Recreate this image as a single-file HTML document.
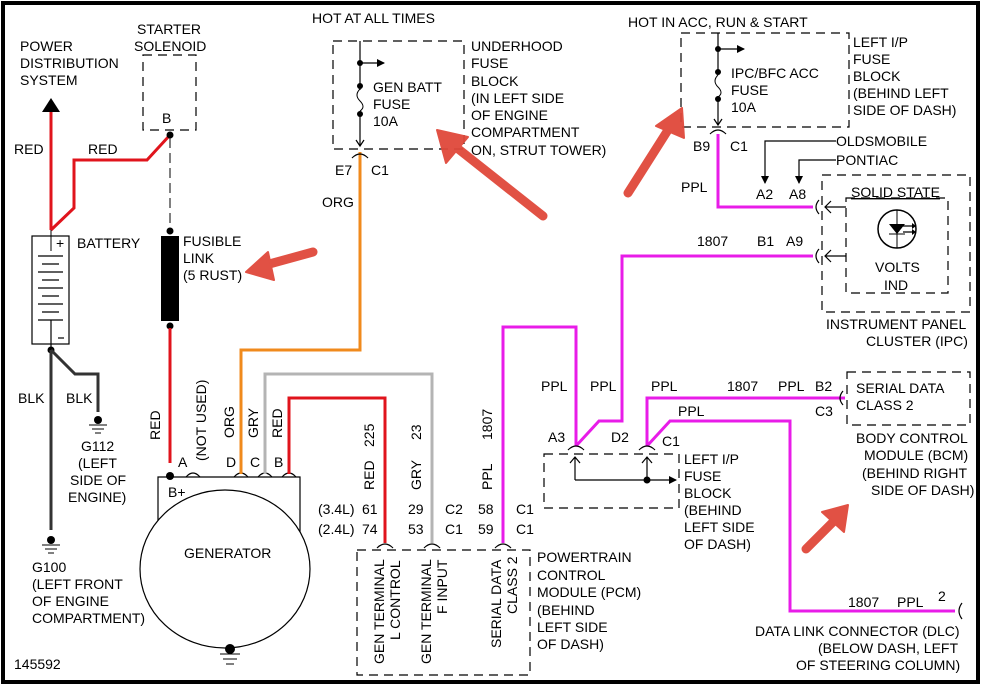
<!DOCTYPE html>
<html><head><meta charset="utf-8"><style>
html,body{margin:0;padding:0;background:#fff;}
svg{display:block;}
text{font-family:"Liberation Sans",sans-serif;font-size:14px;fill:#000;}
.w{fill:none;stroke-width:3;}
.k{fill:none;stroke:#000;stroke-width:1.2;}
.d{fill:none;stroke:#000;stroke-width:1.2;stroke-dasharray:9 6;}
</style></head><body>
<svg width="984" height="686" viewBox="0 0 984 686" xmlns="http://www.w3.org/2000/svg">
<defs>
<marker id="ah" markerWidth="8" markerHeight="8" refX="7" refY="4" orient="auto" markerUnits="userSpaceOnUse"><path d="M0,0 L8,4 L0,8z" fill="#000"/></marker>
</defs>
<rect x="3" y="3" width="975" height="679" fill="none" stroke="#000" stroke-width="4"/>

<text x="20" y="51">POWER</text><text x="20" y="68">DISTRIBUTION</text><text x="20" y="85">SYSTEM</text>
<path d="M42,112 L51,98 L60,112z" fill="#000"/>
<path class="w" stroke="#e0141c" d="M51,112 V230"/>
<path class="w" stroke="#e0141c" d="M51,230 L74,208 V160 H147 L170,135"/>
<text x="14" y="154">RED</text><text x="88" y="154">RED</text>
<text x="137" y="34">STARTER</text><text x="134" y="51">SOLENOID</text>
<rect x="143" y="55" width="53" height="75" class="d"/>
<text x="162" y="123">B</text>
<circle cx="170" cy="135" r="3.5"/>
<path d="M170,138 V228" stroke="#000" stroke-dasharray="10 5" fill="none"/>
<circle cx="170" cy="231" r="3.5"/>
<rect x="161" y="236" width="18" height="85" fill="#000"/>
<circle cx="170" cy="326" r="3.5"/>
<text x="183" y="246">FUSIBLE</text><text x="183" y="263">LINK</text><text x="183" y="280">(5 RUST)</text>
<path class="w" stroke="#e0141c" d="M170,328 V463"/>
<text transform="translate(160,440) rotate(-90)">RED</text>

<rect x="32" y="236" width="37" height="108" class="k"/>
<line x1="51" y1="230" x2="51" y2="251" stroke="#000"/>
<text x="56" y="248">+</text>
<g stroke="#000" stroke-width="1.2">
<line x1="38" y1="256" x2="63" y2="256"/><line x1="42" y1="264" x2="59" y2="264"/>
<line x1="38" y1="272" x2="63" y2="272"/><line x1="42" y1="280" x2="59" y2="280"/>
<line x1="38" y1="288" x2="63" y2="288"/><line x1="42" y1="296" x2="59" y2="296"/>
<line x1="38" y1="304" x2="63" y2="304"/><line x1="42" y1="312" x2="59" y2="312"/>
<line x1="38" y1="320" x2="63" y2="320"/><line x1="51" y1="320" x2="51" y2="350"/>
<line x1="58" y1="338" x2="64" y2="338"/></g>
<text x="77" y="248">BATTERY</text>
<circle cx="51" cy="350" r="3.5"/>
<path stroke="#333" stroke-width="3" fill="none" d="M51,350 V530 M51,350 L75,374 H98 V412"/>
<text x="18" y="403">BLK</text><text x="66" y="403">BLK</text>
<circle cx="98" cy="420" r="4"/><path d="M89,425 H107 M92,429 H104 M95,433 H101" stroke="#000"/>
<text x="81" y="451">G112</text><text x="78" y="468">(LEFT</text><text x="70" y="485">SIDE OF</text><text x="68" y="502">ENGINE)</text>
<circle cx="51" cy="540" r="4"/><path d="M42,545 H60 M45,549 H57 M48,553 H54" stroke="#000"/>
<text x="32" y="572">G100</text><text x="32" y="589">(LEFT FRONT</text><text x="32" y="606">OF ENGINE</text><text x="32" y="623">COMPARTMENT)</text>
<text x="14" y="669">145592</text>

<path class="k" d="M158,532 V477 H300 V532"/>
<ellipse cx="225" cy="569" rx="85" ry="79" fill="#fff" stroke="#000" stroke-width="1.2"/>
<circle cx="170" cy="476" r="4"/>
<text x="168" y="497">B+</text>
<text x="184" y="558">GENERATOR</text>
<circle cx="230" cy="649" r="5"/><path d="M220,654 H240 M223,659 H237 M226,664 H234" stroke="#000"/>
<g class="k"><path d="M186,477 q7,-8 14,0 M234,477 q7,-8 14,0 M258,477 q7,-8 14,0 M282,477 q7,-8 14,0"/></g>
<text x="178" y="467">A</text><text x="226" y="467">D</text><text x="250" y="467">C</text><text x="274" y="467">B</text>
<text transform="translate(206,461) rotate(-90)">(NOT USED)</text>
<text transform="translate(234,438) rotate(-90)">ORG</text>
<text transform="translate(258,438) rotate(-90)">GRY</text>
<text transform="translate(282,438) rotate(-90)">RED</text>
<path class="w" stroke="#f08a1c" d="M241,474 V350 H360 V152"/>
<path class="w" stroke="#b4b4b4" d="M265,474 V374 H432 V543"/>
<path class="w" stroke="#e0141c" d="M289,474 V398 H385 V543"/>

<text x="312" y="23">HOT AT ALL TIMES</text>
<rect x="333" y="41" width="131" height="108" class="d"/>
<path class="k" d="M360,41 V146"/>
<path d="M356,140 L360,146 L364,140" class="k"/>
<circle cx="360" cy="63" r="3"/><path class="k" d="M360,63 H384" marker-end="url(#ah)"/>
<circle cx="360" cy="86" r="3"/><circle cx="360" cy="114" r="3"/>
<rect x="357" y="90" width="6" height="21" fill="#fff"/>
<path d="M360,89 q-6,6 0,12 q6,6 0,10" fill="none" stroke="#000"/>
<text x="373" y="92">GEN BATT</text><text x="373" y="109">FUSE</text><text x="373" y="126">10A</text>
<text x="471" y="51">UNDERHOOD</text><text x="471" y="68">FUSE</text><text x="471" y="86">BLOCK</text><text x="471" y="103">(IN LEFT SIDE</text><text x="471" y="120">OF ENGINE</text><text x="471" y="137">COMPARTMENT</text><text x="471" y="155">ON, STRUT TOWER)</text>
<path class="k" d="M352,158 q8,-8 16,0"/>
<text x="335" y="175">E7</text><text x="371" y="175">C1</text>
<text x="322" y="207">ORG</text>

<text x="318" y="514">(3.4L)</text><text x="318" y="534">(2.4L)</text>
<text x="362" y="514">61</text><text x="362" y="534">74</text>
<text x="408" y="514">29</text><text x="408" y="534">53</text>
<text x="445" y="514">C2</text><text x="445" y="534">C1</text>
<text x="478" y="514">58</text><text x="478" y="534">59</text>
<text x="516" y="514">C1</text><text x="516" y="534">C1</text>
<text transform="translate(374,490) rotate(-90)">RED</text>
<text transform="translate(374,447) rotate(-90)">225</text>
<text transform="translate(421,490) rotate(-90)">GRY</text>
<text transform="translate(421,440) rotate(-90)">23</text>
<text transform="translate(492,490) rotate(-90)">PPL</text>
<text transform="translate(492,440) rotate(-90)">1807</text>
<path class="k" d="M377,548 q8,-8 16,0 M424,548 q8,-8 16,0 M495,548 q8,-8 16,0"/>
<rect x="357" y="550" width="173" height="125" class="d"/>
<text transform="translate(384,664) rotate(-90)">GEN TERMINAL</text>
<text transform="translate(400,640) rotate(-90)">L CONTROL</text>
<text transform="translate(431,664) rotate(-90)">GEN TERMINAL</text>
<text transform="translate(447,614) rotate(-90)">F INPUT</text>
<text transform="translate(501,648) rotate(-90)">SERIAL DATA</text>
<text transform="translate(517,614) rotate(-90)">CLASS 2</text>
<text x="537" y="562">POWERTRAIN</text><text x="537" y="580">CONTROL</text><text x="537" y="597">MODULE (PCM)</text><text x="537" y="615">(BEHIND</text><text x="537" y="632">LEFT SIDE</text><text x="537" y="649">OF DASH)</text>

<g class="w" stroke="#e81ce8">
<path d="M503,543 V327 H576 V446"/>
<path d="M576,446 L599,421 H622 V256 H813"/>
<path d="M647,446 V398 H845"/>
<path d="M647,446 L670,421 H790 V611 H955"/>
<path d="M718,134 V207 H813"/>
</g>
<text x="541" y="391">PPL</text><text x="590" y="391">PPL</text><text x="651" y="391">PPL</text>
<text x="727" y="391">1807</text><text x="778" y="391">PPL</text><text x="815" y="391">B2</text>
<text x="815" y="416">C3</text><text x="678" y="416">PPL</text>
<text x="548" y="442">A3</text><text x="611" y="442">D2</text><text x="662" y="446">C1</text>
<text x="681" y="192">PPL</text><text x="697" y="246">1807</text><text x="757" y="246">B1</text><text x="786" y="246">A9</text>
<text x="848" y="607">1807</text><text x="897" y="607">PPL</text><text x="938" y="601">2</text>
<path class="k" d="M962,603 q-6,8 0,16"/>

<path class="k" d="M568,450 q8,-8 16,0 M639,450 q8,-8 16,0"/>
<rect x="544" y="454" width="135" height="54" class="d"/>
<path class="k" d="M575,480 V457 M570,463 L575,457 L580,463 M647,480 V457 M642,463 L647,457 L652,463"/>
<path class="k" d="M575,480 H676" marker-end="url(#ah)"/>
<circle cx="647" cy="480" r="3.5"/>
<text x="684" y="464">LEFT I/P</text><text x="684" y="481">FUSE</text><text x="684" y="498">BLOCK</text><text x="684" y="515">(BEHIND</text><text x="684" y="532">LEFT SIDE</text><text x="684" y="549">OF DASH)</text>

<text x="628" y="27">HOT IN ACC, RUN &amp; START</text>
<rect x="681" y="33" width="168" height="94" class="d"/>
<path class="k" d="M718,33 V125"/>
<path d="M714,119 L718,125 L722,119" class="k"/>
<circle cx="718" cy="49" r="3"/><path class="k" d="M718,49 H744" marker-end="url(#ah)"/>
<circle cx="718" cy="72" r="3"/><circle cx="718" cy="99" r="3"/>
<rect x="715" y="75" width="6" height="21" fill="#fff"/>
<path d="M718,75 q-6,6 0,12 q6,6 0,10" fill="none" stroke="#000"/>
<text x="731" y="78">IPC/BFC ACC</text><text x="731" y="95">FUSE</text><text x="731" y="112">10A</text>
<text x="853" y="47">LEFT I/P</text><text x="853" y="64">FUSE</text><text x="853" y="81">BLOCK</text><text x="853" y="98">(BEHIND LEFT</text><text x="853" y="115">SIDE OF DASH)</text>
<path class="k" d="M710,134 q8,-8 16,0"/>
<text x="693" y="151">B9</text><text x="730" y="151">C1</text>
<path class="k" d="M836,141 H765 V183" marker-end="url(#ah)"/>
<path class="k" d="M836,160 H799 V183" marker-end="url(#ah)"/>
<text x="836" y="146">OLDSMOBILE</text><text x="836" y="165">PONTIAC</text>
<text x="756" y="199">A2</text><text x="789" y="199">A8</text>

<rect x="822" y="175" width="148" height="137" class="d"/>
<rect x="846" y="198" width="102" height="95" class="d"/>
<text x="851" y="197" style="text-decoration:underline">SOLID STATE</text>
<path class="k" d="M819,200 q-6,7 0,14 M819,249 q-6,7 0,14"/>
<path class="k" d="M846,207 H825 M831,201 L825,207 L831,213 M846,256 H825 M831,250 L825,256 L831,262"/>
<circle cx="897" cy="229" r="19" fill="#fff" stroke="#000" stroke-width="1.5"/>
<path d="M897,210 V248" stroke="#000"/>
<path d="M889,224 H905 L897,234z" fill="#000"/>
<path d="M889,234 H905" stroke="#000"/>
<path class="k" d="M903,226 H914 M903,232 H914"/>
<path d="M912,223 L916,226 L912,229z M912,229 L916,232 L912,235z" fill="#000"/>
<text x="875" y="272">VOLTS</text><text x="884" y="290">IND</text>
<text x="826" y="329">INSTRUMENT PANEL</text><text x="866" y="346">CLUSTER (IPC)</text>

<rect x="847" y="372" width="123" height="53" class="d"/>
<path class="k" d="M843,391 q-6,7 0,14"/>
<text x="856" y="393">SERIAL DATA</text><text x="856" y="410">CLASS 2</text>
<text x="856" y="443">BODY CONTROL</text><text x="864" y="460">MODULE (BCM)</text><text x="862" y="478">(BEHIND RIGHT</text><text x="871" y="495">SIDE OF DASH)</text>
<text x="755" y="636">DATA LINK CONNECTOR (DLC)</text><text x="818" y="653">(BELOW DASH, LEFT</text><text x="796" y="670">OF STEERING COLUMN)</text>

<g stroke="#e0483a" stroke-width="9" stroke-linecap="round" fill="#e0483a" opacity="0.95">
<line x1="313" y1="252" x2="262" y2="266"/>
<path d="M246,272 L268,252 L274,280z" stroke-width="2" stroke-linejoin="round"/>
<line x1="543" y1="216" x2="452" y2="144"/>
<path d="M437,130 L468,137 L446,163z" stroke-width="2" stroke-linejoin="round"/>
<line x1="628" y1="193" x2="668" y2="130"/>
<path d="M682,108 L684,138 L656,126z" stroke-width="2" stroke-linejoin="round"/>
<line x1="806" y1="549" x2="835" y2="520"/>
<path d="M848,505 L844,532 L822,512z" stroke-width="2" stroke-linejoin="round"/>
</g>
</svg>
</body></html>
